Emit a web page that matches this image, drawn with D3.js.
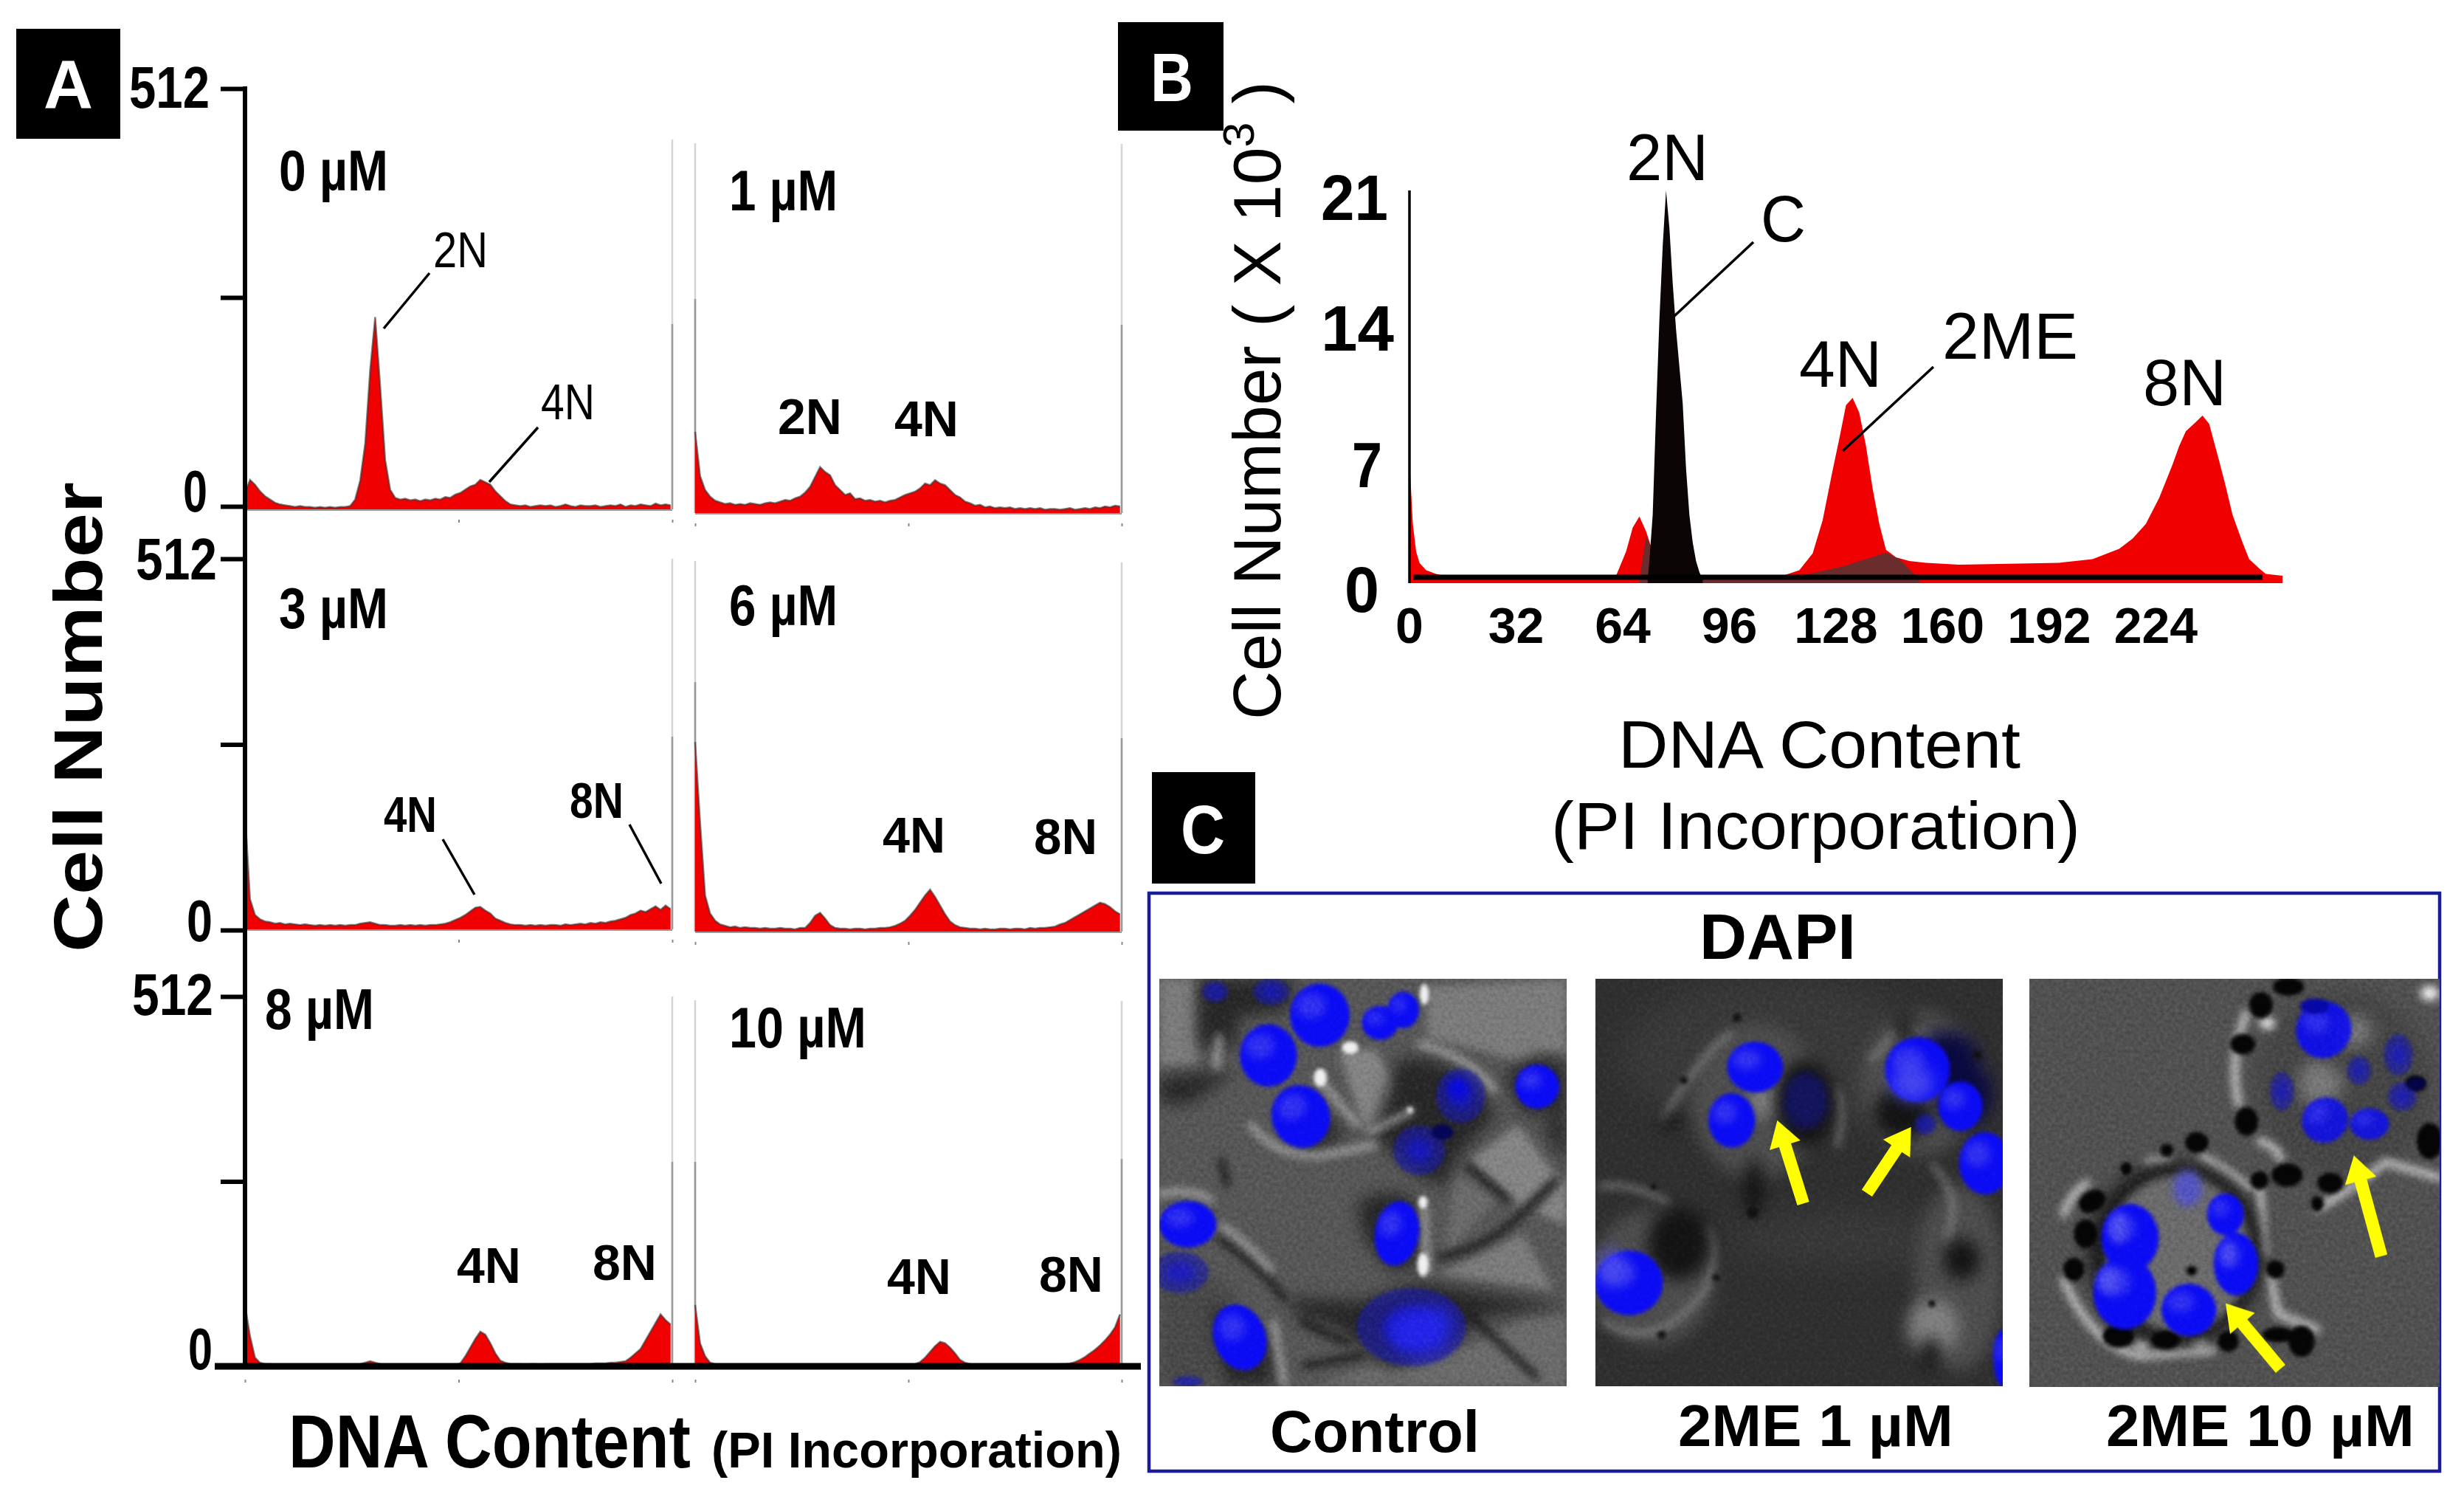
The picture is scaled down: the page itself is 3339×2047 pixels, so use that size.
<!DOCTYPE html>
<html><head><meta charset="utf-8">
<script src="https://cdnjs.cloudflare.com/ajax/libs/d3/7.8.5/d3.min.js"></script>
<style>html,body{margin:0;padding:0;background:#fff}svg{display:block;color-interpolation-filters:sRGB}text{font-family:"Liberation Sans",Arial,sans-serif}</style>
</head><body><svg id="c" width="3339" height="2047"></svg>
<script>
// ---------- Panel A data: counts per channel (channels 0,3,6…255) ----------
const doseLabels = ["0 µM","1 µM","3 µM","6 µM","8 µM","10 µM"];
const yTicksA = [0,256,512];
const xTicksA = [0,128,256];
const count0 = [20,36,30,22,16,12,8,6,5,4,3,4,3,3,2,3,2,3,2,3,3,4,12,35,80,170,234,150,60,24,14,12,13,11,12,10,12,11,13,12,15,14,18,20,24,28,30,36,33,30,22,16,10,6,5,4,5,3,4,5,4,5,3,4,6,4,3,5,4,4,5,3,4,5,4,6,3,5,4,6,5,4,7,5,6,5];
const count1 = [99,45,28,20,15,13,11,12,10,11,10,12,11,10,12,13,12,14,16,15,18,20,25,32,44,56,50,46,34,28,22,24,17,18,15,16,14,15,13,15,16,19,22,24,26,30,36,34,40,36,34,28,22,19,14,12,9,10,7,8,6,7,6,7,5,6,5,6,5,6,4,5,5,4,5,6,4,5,6,5,7,6,8,7,9,8];
const count3 = [162,42,20,14,11,10,8,9,7,8,7,6,7,6,5,6,5,6,5,6,5,6,6,8,9,10,8,6,6,5,5,6,5,6,5,6,5,6,6,7,8,10,13,16,20,25,30,31,26,22,15,12,9,7,6,6,5,6,5,6,5,6,6,5,7,6,7,8,7,9,8,10,9,11,12,14,16,20,22,26,24,28,32,27,33,28];
const count6 = [262,150,50,25,15,10,8,6,7,5,6,5,5,4,5,4,4,5,4,4,3,5,5,12,22,26,18,9,5,4,4,3,4,4,3,4,4,5,5,6,8,11,15,22,30,40,50,58,48,36,24,14,9,6,5,4,4,3,4,3,3,4,4,3,4,4,3,5,4,5,5,6,7,10,12,16,20,24,28,32,36,40,38,34,28,24];
const count8 = [83,40,10,3,1,1,0,0,0,0,0,0,0,0,0,0,0,0,0,0,0,0,0,1,3,5,3,1,0,0,0,0,0,0,0,0,0,0,0,0,0,0,0,2,12,24,36,46,42,30,16,6,3,1,1,1,0,1,1,0,1,1,1,1,1,1,1,1,1,1,2,2,2,3,3,4,5,10,16,22,34,46,58,70,62,56];
const count10 = [83,30,12,3,1,0,0,0,0,0,0,0,0,0,0,0,0,0,0,0,0,0,0,0,0,0,0,0,0,0,0,0,0,0,0,0,0,0,0,0,0,0,0,0,1,4,10,18,26,32,30,24,16,7,3,1,0,0,0,0,0,0,0,0,0,0,0,0,0,0,0,0,0,1,1,2,4,7,11,16,21,27,34,42,52,70];
const channelsA = count0.map((_,i)=>i*3);
// ---------- Panel B data ----------
const xTicksB = [0,32,64,96,128,160,192,224];
const yTicksB = [0,7,14,21];
const meChannels = [0,1,2,3,5,8,12,20,40,58,62,65,67,69,71,73,75,77,79,90,105,112,117,121,124,127,129,131,133,135,137,139,141,143,146,150,155,165,180,195,205,213,217,221,225,229,231,233,236,238,240,243,245,247,250,252,255,257,262];
const meCounts =   [6.5,3,1.5,0.9,0.5,0.3,0.15,0.1,0.1,0.1,0.2,1.5,2.8,3.4,2.6,1.5,0.6,0.2,0.1,0.1,0.1,0.2,0.5,1.4,3.2,5.9,7.6,9.4,9.8,9,7.2,4.9,3,1.6,1.2,1,0.9,0.8,0.85,0.9,1.1,1.65,2.2,3,4.4,6.2,7.2,8,8.5,8.85,8.4,6.4,5,3.5,2,1.1,0.6,0.3,0.2];
const ctrlChannels = [71.5,72,73,74,75,76,77,78,79,80,81,82,83,84,85,86,87,88];
const ctrlCounts =   [0,1,3.5,9,14,18,21,19,16,13.5,11.5,9.5,6,3.5,2,1,0.4,0];
const overlapChannels = [69,71,73,76,78,109,120,130,137,143,147,153];
const overlapCounts =   [0,2.3,1.6,0.4,0,0,0.3,0.7,1.1,1.44,1.1,0];
const peakLabelsB = ["2N","C","4N","2ME","8N"];
const imageLabels = ["Control","2ME 1 µM","2ME 10 µM"];

const svg = d3.select("#c");
const RED = "#f00000";
function label(txt,x,base,size,w,o={}){
  const t = (o.g||svg).append("text").attr("font-size",size).attr("font-weight",o.weight||"bold")
    .attr("fill",o.fill||"#000").text(txt);
  const sx = w/t.node().getComputedTextLength();
  t.attr("transform",`translate(${x},${base}) ${o.rot?`rotate(${o.rot})`:""} scale(${sx},1)`);
  return t;
}
function seg(x1,y1,x2,y2,w=3.5,c="#000",op=1){
  svg.append("line").attr("x1",x1).attr("y1",y1).attr("x2",x2).attr("y2",y2).attr("stroke",c).attr("stroke-width",w).attr("opacity",op);
}
[["A",22,39,141,149,59,146,67],["B",1515,30,143,147,1559,137,58],["C",1561,1046,140,151,1600,1156,60]].forEach(d=>{
  svg.append("rect").attr("x",d[1]).attr("y",d[2]).attr("width",d[3]).attr("height",d[4]).attr("fill","#000");
  label(d[0],d[5],d[6],93,d[7],{fill:"#fff"});
});

// ---------- PANEL A ----------
const xLeft = d3.scaleLinear().domain([0,256]).range([332,911]);
const xRight = d3.scaleLinear().domain([0,256]).range([942,1520]);
const panels = [
 {v:count0,x:xLeft, base:690, top:120, lab:[378,258,148], l:[[256,189,439]]},
 {v:count1,x:xRight,base:695, top:125, lab:[988,285,147], l:[[0,194,405],[256,195,440]]},
 {v:count3,x:xLeft, base:1259,top:757, lab:[378,851,148], l:[[256,757,998]]},
 {v:count6,x:xRight,base:1262,top:760, lab:[988,847,147], l:[[0,760,924],[256,762,1000]]},
 {v:count8,x:xLeft, base:1849,top:1348,lab:[359,1394,148],l:[[256,1350,1574]]},
 {v:count10,x:xRight,base:1849,top:1348,lab:[988,1419,186],l:[[0,1355,1574],[256,1356,1570]]},
];
panels.forEach((p,i)=>{
  const y = d3.scaleLinear().domain([0,512]).range([p.base,p.top]);
  const g = svg.append("g");
  g.append("g").attr("transform",`translate(0,${p.base+(i>3?20:14)})`)
   .call(d3.axisBottom(p.x).tickValues(xTicksA).tickSize(4).tickFormat(""))
   .call(s=>{s.select(".domain").remove();s.selectAll("line").attr("stroke","#888").attr("stroke-width",2)});
  p.l.forEach(L=>{
    g.append("line").attr("x1",p.x(L[0])).attr("x2",p.x(L[0])).attr("y1",L[1]).attr("y2",p.base).attr("stroke","#d4d4d4").attr("stroke-width",2.5);
    g.append("line").attr("x1",p.x(L[0])).attr("x2",p.x(L[0])).attr("y1",L[2]).attr("y2",p.base).attr("stroke","#999").attr("stroke-width",2.5);
  });
  const area = d3.area().x((d,j)=>p.x(channelsA[j])).y0(p.base).y1(d=>y(d));
  g.append("path").datum(p.v).attr("d",area).attr("fill",RED);
  g.append("path").datum(p.v).attr("d",area.lineY1()).attr("fill","none").attr("stroke","#333").attr("stroke-width",2.5).attr("opacity",.6);
  g.append("line").attr("x1",p.x(0)).attr("x2",p.x(256)).attr("y1",p.base+1).attr("y2",p.base+1).attr("stroke","#999").attr("stroke-width",2);
  label(doseLabels[i],p.lab[0],p.lab[1],78,p.lab[2]);
});
[[686,120],[1260,757],[1851,1350]].forEach(r=>{
  const y=d3.scaleLinear().domain([0,512]).range(r);
  svg.append("g").attr("transform","translate(332,0)")
    .call(d3.axisLeft(y).tickValues(yTicksA).tickSize(33).tickFormat(""))
    .call(s=>{s.select(".domain").remove();s.selectAll("line").attr("stroke","#000").attr("stroke-width",6)});
});
seg(332,117,332,1853,6);
seg(291,1851,1546,1851,9);
[["512",175,146,109],["0",248,693,33],["512",184,785,110],["0",253,1275,35],["512",179,1375,110],["0",255,1855,33]]
 .forEach(d=>label(d[0],d[1],d[2],80,d[3]));
[["2N",587,362,74,"normal"],["4N",733,568,73,"normal"],["2N",1054,588,87],["4N",1212,591,87],
 ["4N",520,1127,72],["8N",772,1108,73],["4N",1196,1155,85],["8N",1401,1157,86],
 ["4N",619,1738,87],["8N",803,1734,87],["4N",1202,1753,87],["8N",1408,1750,87]]
 .forEach(d=>label(d[0],d[1],d[2],68,d[3],{weight:d[4]||"bold"}));
[[582,370,520,445],[729,579,663,653],[600,1137,643,1212],[853,1117,896,1197]].forEach(d=>seg(...d,3.5));
label("Cell Number",138,1290,93,637,{rot:-90});
label("DNA Content",391,1988,102,545);
label("(PI Incorporation)",964,1988,68,556);

// ---------- PANEL B ----------
const xB = d3.scaleLinear().domain([0,262]).range([1910,3093]);
const yB = d3.scaleLinear().domain([0,21]).range([785,258]);
const areaB = (xs)=>d3.area().x((d,i)=>xB(xs[i])).y0(yB(-0.2)).y1(d=>yB(d));
svg.append("path").datum(meCounts).attr("d",areaB(meChannels)).attr("fill",RED);
svg.append("path").datum(overlapCounts).attr("d",areaB(overlapChannels)).attr("fill","#6a2c2c");
svg.append("path").datum(ctrlCounts).attr("d",areaB(ctrlChannels)).attr("fill","#0b0505");
seg(1910,258,1910,790,3.5);
seg(1915,782,3066,782,7);
svg.append("g").selectAll("text").data(xTicksB).join("text").attr("x",d=>xB(d)).attr("y",871)
  .attr("text-anchor","middle").attr("font-size",68).attr("font-weight","bold").text(d=>d);
[["21",1790,298,91],["14",1790,475,99],["7",1832,660,41],["0",1822,829,47]].forEach(d=>label(d[0],d[1],d[2],88,d[3]));
const bPos=[[2204,244,111],[2386,327,61],[2438,524,112],[2632,486,184],[2904,549,113]];
peakLabelsB.forEach((t,i)=>label(t,bPos[i][0],bPos[i][1],89,bPos[i][2],{weight:"normal"}));
seg(2376,328,2268,429,3.5); seg(2620,497,2497,611,3.5);
const yt = svg.append("text").attr("font-size",90);
yt.append("tspan").text("Cell Number ( X 10");
yt.append("tspan").attr("font-size",60).attr("dy",-36).text("3");
yt.append("tspan").attr("dy",36).text(" )");
yt.attr("transform",`translate(1735,975) rotate(-90) scale(${865/yt.node().getComputedTextLength()},1)`);
label("DNA Content",2193,1040,90,545,{weight:"normal"});
label("(PI Incorporation)",2102,1150,90,717,{weight:"normal"});

// ---------- PANEL C ----------
svg.append("rect").attr("x",1557).attr("y",1210).attr("width",1749).attr("height",783).attr("fill","none").attr("stroke","#1a1a9c").attr("stroke-width",4.5);
label("DAPI",2303,1299,88,212);
label(imageLabels[0],1721,1967,80,284);
label(imageLabels[1],2274,1959,80,373);
label(imageLabels[2],2854,1959,80,418);

const defs = svg.append("defs");
[["s4",8],["s8",16],["s16",30],["s30",60]].forEach(d=>defs.append("filter").attr("id",d[0]).attr("filterUnits","userSpaceOnUse").attr("x",-200).attr("y",-200).attr("width",1968).attr("height",1968).attr("color-interpolation-filters","sRGB").append("feGaussianBlur").attr("stdDeviation",d[1]));
const tex = defs.append("filter").attr("id","tex").attr("x",0).attr("y",0).attr("width","100%").attr("height","100%").attr("color-interpolation-filters","sRGB");
tex.append("feTurbulence").attr("type","fractalNoise").attr("baseFrequency",.07).attr("numOctaves",2).attr("seed",7);
tex.append("feColorMatrix").attr("values","1.4 0 0 0 -.25  1.4 0 0 0 -.25  1.4 0 0 0 -.25  0 0 0 0 1");
// Micrograph decoration, laid out in a 1568-wide image space; every image is 552 px tall on the page
function micro(id,x0,w,bg,texOp,fn){
  const k = 1568/w, H = 552*k;
  defs.append("clipPath").attr("id",id).append("rect").attr("width",1568).attr("height",H);
  const g = svg.append("g").attr("transform",`translate(${x0},1326) scale(${1/k})`).attr("clip-path",`url(#${id})`);
  g.append("rect").attr("width",1568).attr("height",1568).attr("fill",bg);
  fn(g);
  g.append("rect").attr("width",1568).attr("height",1568).attr("filter","url(#tex)").attr("opacity",texOp).style("mix-blend-mode","soft-light");
  return g;
}
const ell=(g,L,fill,f,op=1)=>g.append("g").attr("filter",f?`url(#${f})`:null).attr("opacity",op).selectAll("ellipse").data(L).join("ellipse")
  .attr("cx",d=>d[0]).attr("cy",d=>d[1]).attr("rx",d=>d[2]).attr("ry",d=>d[3]).attr("fill",fill)
  .attr("transform",d=>d[4]?`rotate(${d[4]} ${d[0]} ${d[1]})`:null);
const pth=(g,L,c,w,f,op=1)=>g.append("g").attr("filter",`url(#${f})`).attr("opacity",op).selectAll("path").data(L).join("path").attr("d",d=>d).attr("fill","none").attr("stroke",c).attr("stroke-width",w).attr("stroke-linecap","round");
const poly=(g,L,c,f)=>g.append("g").attr("filter",`url(#${f})`).selectAll("path").data(L).join("path").attr("d",d=>d).attr("fill",c);
function nuclei(g,L,op=1){
  ell(g,L,"#0c0cf4","s4",op);
  ell(g,L.map(d=>[d[0]-d[2]*.3,d[1]-d[3]*.3,d[2]*.5,d[3]*.4,d[4]]),"#3a3af0","s8",op*.8);
}
function dim(g,L){
  ell(g,L,"#1a1ab0","s4",.62);
  ell(g,L.map(d=>[d[0],d[1],d[2]*.5,d[3]*.5,d[4]]),"#1414e0","s8",.6);
}
function arrow(g,x1,y1,x2,y2){
  const a=Math.atan2(y2-y1,x2-x1),n=[-Math.sin(a),Math.cos(a)],c=[Math.cos(a),Math.sin(a)],hl=100,hw=62,w=24;
  const bx=x2-c[0]*hl,by=y2-c[1]*hl;
  g.append("path").attr("fill","#ffff00").attr("d",`M${x1+n[0]*w},${y1+n[1]*w}L${bx+n[0]*w},${by+n[1]*w}L${bx+n[0]*hw},${by+n[1]*hw}L${x2},${y2}L${bx-n[0]*hw},${by-n[1]*hw}L${bx-n[0]*w},${by-n[1]*w}L${x1-n[0]*w},${y1-n[1]*w}Z`);
}
micro("m1",1571,552,"#585858",.2,g=>{
  poly(g,["M1030,30L1568,0L1568,290Q1450,260 1400,330Q1250,270 1030,230Z","M0,0L140,0L150,330L0,340Z","M1070,1140L1400,980L1520,1200Z"],"#7c7c7c","s8");
  poly(g,["M690,280L830,270L970,500L790,580Z","M1190,700L1380,560L1530,760L1400,880Z","M1450,900L1568,760L1568,950Z","M600,1300L740,1280L740,1380L660,1360Z"],"#858585","s8");
  poly(g,["M1130,740L1300,850L1100,1060L1120,900Z","M800,1500Q1200,1450 1400,1300L1568,1290L1568,1568L600,1568Z"],"#6c6c6c","s8");
  poly(g,["M0,1050L300,1200L200,1568L0,1568Z"],"#4a4a4a","s16");
  poly(g,["M150,0L520,0L500,120L300,150L300,260L150,260Z","M0,380L300,350L120,480L0,480Z","M920,310Q1080,290 1200,400L1300,520L1150,680L1100,800L1000,760L820,600Z","M480,1230L780,1240L1000,1170L1568,1260L1250,1300L1100,1420L900,1500L760,1400L530,1290Z","M760,870Q850,790 980,850L1000,1100L900,1130L790,1000Z","M640,520L720,600L600,660L520,640Z","M1330,380Q1400,270 1568,330L1568,520L1400,520Z","M1470,560L1568,520L1568,720Z","M200,1250L430,1400L440,1568L250,1568Z"],"#282828","s16");
  pth(g,["M240,700L260,790","M1080,1070Q1250,1040 1380,920L1520,780","M1190,720L1340,850","M230,1000Q380,1100 480,1230","M560,1490L780,1450","M1200,1300L1450,1530","M550,1320L720,1400"],"#1a1a1a",26,"s8");
  pth(g,["M350,560Q450,690 620,680L830,640","M610,380L760,560","M1000,250Q1200,300 1290,430","M0,830Q100,800 200,850","M440,1320L480,1560","M1020,880L1030,1130","M230,220L220,340","M240,950Q330,1010 430,1120","M810,590L970,510"],"#b8b8b8",20,"s8");
  ell(g,[[620,380,25,35],[735,265,32,25],[1015,860,18,25],[1015,1100,22,45],[1020,60,18,40],[965,505,12,12]],"#f0f0f0","s4");
  nuclei(g,[[618,140,115,122],[420,295,110,120],[545,530,112,122,-20],[850,170,70,65],[940,120,60,70],[110,945,110,90],[915,980,85,125,10],[310,1380,100,130,-20],[1455,415,85,85]]);
  dim(g,[[1160,450,95,105],[1000,660,100,95],[215,50,50,40],[430,50,70,50],[80,1130,110,80],[110,1550,60,20],[970,1340,210,150]]);
  ell(g,[[1000,1360,120,90],[1060,1330,70,70]],"#2626f0","s16",.9);
  ell(g,[[1150,420,40,40]],"#0a0ae0","s8");
  ell(g,[[1090,590,42,30]],"#05055a","s4");
});
micro("m2",2162,552,"#303030",.15,g=>{
  ell(g,[[700,300,600,300],[1000,1000,500,100]],"#3a3a3a","s30");
  ell(g,[[620,470,250,300],[1250,400,230,280],[1400,1150,170,360],[220,1150,240,260]],"#4e4e4e","s16");
  ell(g,[[640,470,50,70],[1300,1340,100,110]],"#808080","s16");
  pth(g,["M260,540Q400,300 520,210","M1150,200Q1100,280 1060,310","M930,640Q960,500 930,430","M30,1320Q230,1450 420,1200Q480,1050 430,960","M20,800Q130,780 280,860","M1300,720Q1420,850 1350,1000","M1180,170L1430,290"],"#9a9a9a",18,"s8",.75);
  ell(g,[[810,480,110,170],[320,1020,120,140],[1180,520,110,100],[610,800,35,110],[1410,1080,70,80],[1290,1440,40,60],[290,550,50,25],[1190,180,40,50]],"#0e0e0e","s16",.9);
  ell(g,[[1350,300,130,100],[1420,440,110,130]],"#0a0a40","s16");
  ell(g,[[810,470,85,110]],"#14145e","s8");
  nuclei(g,[[615,340,108,98],[525,545,90,105],[1240,350,125,125],[1405,490,85,95],[1500,710,100,120],[130,1170,130,125],[1568,1460,35,110]]);
  dim(g,[[1270,560,40,40]]);
  ell(g,[[1220,400,80,70],[60,1110,50,70]],"#5555ee","s16",.8);
  ell(g,[[340,390,15,15],[1470,295,18,18],[255,1370,16,16],[465,1150,14,14],[605,900,22,22],[1295,1250,14,14],[225,800,12,12],[545,150,16,16]],"#111","s4");
  arrow(g,800,865,700,545); arrow(g,1045,825,1215,570);
});
micro("m3",2750,556,"#525252",.2,g=>{
  ell(g,[[1200,400,340,360]],"#474747","s16");
  pth(g,["M130,1150Q240,1400 420,1440L700,1420","M880,800L900,1050","M660,680Q760,730 840,800","M450,700L530,690","M830,130Q760,300 800,480","M880,620Q950,640 960,690","M1100,880Q1240,800 1360,700L1568,760","M130,900Q160,820 220,780","M920,1130L950,1280L1100,1340"],"#e0e0e0",26,"s8",.9);
  ell(g,[[910,170,30,22],[1530,55,35,28],[430,1400,30,16],[650,1390,30,16]],"#f4f4f4","s8");
  ell(g,[[560,1050,335,350]],"#1a1a1a","s16");
  ell(g,[[570,1050,275,300]],"#6c6c6c","s8");
  ell(g,[[1100,400,70,90],[1240,200,70,60],[1150,400,50,60]],"#7a7a7a","s16");
  ell(g,[[640,625,45,40],[525,655,25,25],[370,725,22,25],[240,850,55,40,-30],[215,975,45,55],[170,1110,40,45],[340,1365,60,45],[520,1380,55,35],[760,1385,40,40],[940,1110,35,35],[1040,1385,50,60],[950,1360,60,30],[885,100,45,50],[990,30,60,35],[815,250,48,40],[830,545,45,55],[880,770,35,35],[985,750,60,45],[1100,860,25,30],[1530,620,50,70],[1150,780,50,40],[1475,400,40,30]],"#050505","s4");
  nuclei(g,[[385,990,110,130],[365,1200,120,140],[610,1265,105,100],[790,1090,85,120],[750,900,70,80]]);
  ell(g,[[340,950,30,60],[300,1150,40,50],[760,1050,20,50]],"#6060f0","s8",.7);
  ell(g,[[605,800,55,70]],"#5555c8","s8",.95);
  ell(g,[[620,1115,20,18]],"#000","s4");
  nuclei(g,[[1125,195,105,110,30]],.9);
  nuclei(g,[[1130,540,90,85,-35],[1300,555,75,60]],.85);
  ell(g,[[1090,105,55,30]],"#0808a8","s4");
  dim(g,[[1410,290,55,80],[1425,450,55,55],[1260,350,45,55],[965,430,45,75]]);
  ell(g,[[1480,400,35,25]],"#04044a","s4");
  arrow(g,1345,1060,1240,675); arrow(g,960,1490,750,1240);
});
</script></body></html>
